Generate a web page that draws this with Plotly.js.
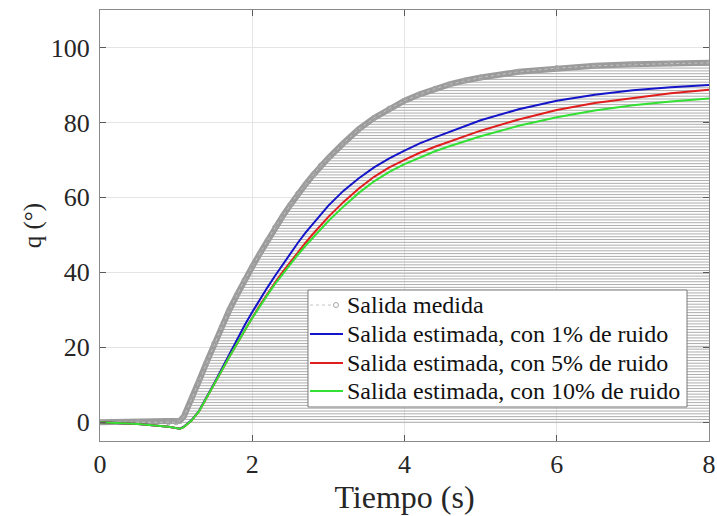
<!DOCTYPE html>
<html>
<head>
<meta charset="utf-8">
<script src="https://cdn.plot.ly/plotly-3.0.1.min.js"></script>
<style>html,body{margin:0;padding:0;background:#fff;}#chart{width:717px;height:516px;}</style>
</head>
<body>
<div id="chart"></div>
<script>
// Time (s)
const tiempo = [0,0.5,0.9,1.0,1.05,1.1,1.2,1.3,1.4,1.5,1.6,1.7,1.8,1.9,2.0,2.1,2.2,2.3,2.4,2.5,2.6,2.7,2.8,2.9,3.0,3.2,3.4,3.6,3.8,4.0,4.2,4.4,4.6,4.8,5.0,5.5,6.0,6.5,7.0,7.5,8.0];
// Measured output q (deg)
const salidaMedida = [0,0,0,0,0.4,1.5,6,11,16,21,25.5,30,34,38,41.5,45,48.5,52,55,58,61,63.5,66,68.5,70.5,74.5,78.2,81.2,83.7,85.8,87.5,89.0,90.2,91.2,92.0,93.5,94.5,95.1,95.5,95.7,95.9];
// Estimated output, 1% noise
const estimada1 = [0,-0.45,-1.2,-1.6,-1.7,-1.2,0.5,3.0,6.6,10.4,14.3,18.3,22.2,25.9,29.4,32.8,36.0,39.1,42.1,45.1,47.9,50.6,53.1,55.5,57.8,61.8,65.1,68.0,70.4,72.5,74.4,76.0,77.6,79.2,80.6,83.5,85.8,87.4,88.6,89.4,90.0];
// Estimated output, 5% noise
const estimada5 = [0,-0.45,-1.2,-1.6,-1.75,-1.3,0.4,2.9,6.4,10.1,13.8,17.5,21.1,24.5,27.9,31.2,34.3,37.3,40.1,42.8,45.4,47.9,50.3,52.6,54.8,58.8,62.4,65.5,68.0,70.0,71.9,73.5,75.0,76.4,77.8,80.8,83.3,85.2,86.6,87.8,88.7];
// Estimated output, 10% noise
const estimada10 = [0,-0.45,-1.2,-1.6,-1.75,-1.3,0.4,2.9,6.4,10.1,13.8,17.5,21.1,24.5,27.8,31.0,34.0,36.9,39.6,42.2,44.7,47.1,49.4,51.6,53.7,57.6,61.2,64.3,66.8,68.9,70.7,72.3,73.7,75.1,76.3,79.1,81.4,83.2,84.6,85.6,86.4];

const nombres = ["Salida medida","Salida estimada, con 1% de ruido","Salida estimada, con 5% de ruido","Salida estimada, con 10% de ruido"];
const colores = ["#a6a6a6","#1414c8","#e01e1e","#33e033"];
const xTicks = [0,2,4,6,8];
const yTicks = [0,20,40,60,80,100];

// Hatch lines from the measured curve to the right edge (decorative, derived from measured data)
const hx = [], hy = [];
const tEnd = tiempo[tiempo.length-1];
const qMax = Math.max(...salidaMedida);
for (let L = 0; L <= qMax; L += 0.75) {
  let xs = tiempo[0];
  for (let i = 1; i < tiempo.length; i++) {
    if (salidaMedida[i] >= L && salidaMedida[i-1] <= L) {
      const d = salidaMedida[i] - salidaMedida[i-1];
      xs = d === 0 ? tiempo[i-1] : tiempo[i-1] + (L - salidaMedida[i-1]) / d * (tiempo[i] - tiempo[i-1]);
      if (L === 0) xs = tiempo[0];
      break;
    }
  }
  hx.push(xs, tEnd, null); hy.push(L, L, null);
}

const font = "Liberation Serif, Times New Roman, serif";
const txt = "#262626";

const data = [
  {x: hx, y: hy, mode: "lines", line: {color: "#adadad", width: 1}, showlegend: false, hoverinfo: "skip"},
  {x: tiempo, y: salidaMedida, mode: "lines", line: {color: "#9b9b9b", width: 6}, showlegend: false, hoverinfo: "skip"},
  {x: tiempo, y: salidaMedida, name: nombres[0], mode: "lines+markers", showlegend: false,
   line: {color: "#c4c4c4", width: 1, dash: "dot"},
   marker: {symbol: "circle-open", size: 5, color: colores[0], line: {width: 1}}},
  {x: tiempo, y: estimada1, name: nombres[1], mode: "lines", showlegend: false, line: {color: colores[1], width: 2}},
  {x: tiempo, y: estimada5, name: nombres[2], mode: "lines", showlegend: false, line: {color: colores[2], width: 2}},
  {x: tiempo, y: estimada10, name: nombres[3], mode: "lines", showlegend: false, line: {color: colores[3], width: 2}}
];

// Legend box (paper coordinates of the plot area)
const legBox = {x0: 0.3415, x1: 0.9639, y0: 0.0789, y1: 0.3503};
const legRows = [0.3155, 0.2483, 0.1810, 0.1160];
const symX0 = 0.3448, symX1 = 0.3990, textX = 0.4023;

const shapes = [{type: "rect", xref: "paper", yref: "paper", x0: legBox.x0, x1: legBox.x1, y0: legBox.y0, y1: legBox.y1,
  fillcolor: "#ffffff", line: {color: "#7a7a7a", width: 1}, layer: "above"}];
const annotations = [];
nombres.forEach((n, i) => {
  if (i === 0) {
    shapes.push({type: "line", xref: "paper", yref: "paper", x0: symX0, x1: 0.3826, y0: legRows[i], y1: legRows[i],
      line: {color: "#c4c4c4", width: 1, dash: "dot"}, layer: "above"});
    shapes.push({type: "circle", xref: "paper", yref: "paper", x0: 0.3834, x1: 0.3916, y0: legRows[i] - 0.0058, y1: legRows[i] + 0.0058,
      line: {color: colores[0], width: 1}, fillcolor: "rgba(0,0,0,0)", layer: "above"});
  } else {
    shapes.push({type: "line", xref: "paper", yref: "paper", x0: symX0, x1: symX1, y0: legRows[i], y1: legRows[i],
      line: {color: colores[i], width: 2}, layer: "above"});
  }
  annotations.push({xref: "paper", yref: "paper", x: textX, y: legRows[i], xanchor: "left", yanchor: "middle",
    text: n, showarrow: false, font: {family: font, size: 24, color: "#111"}});
});

const axisCommon = {
  showline: true, mirror: "ticks", linecolor: "#8a8a8a", linewidth: 1,
  ticks: "inside", ticklen: 6, tickcolor: "#5a5a5a", tickwidth: 1,
  showgrid: true, gridcolor: "#e4e4e4", gridwidth: 1, zeroline: false,
  tickfont: {family: font, size: 26, color: txt}
};

const layout = {
  width: 717, height: 516,
  margin: {l: 100, r: 8, t: 10, b: 75},
  paper_bgcolor: "#ffffff", plot_bgcolor: "#ffffff",
  font: {family: font, color: txt},
  xaxis: Object.assign({}, axisCommon, {
    range: [0, 8], tickvals: xTicks, ticktext: xTicks.map(String),
    title: {text: "Tiempo (s)", font: {family: font, size: 32, color: txt}, standoff: 0}
  }),
  yaxis: Object.assign({}, axisCommon, {
    range: [-5, 110], tickvals: yTicks, ticktext: yTicks.map(String),
    ticklabelstandoff: 4,
    title: {text: "q (°)", font: {family: font, size: 25, color: txt}, standoff: 2}
  }),
  shapes: shapes,
  annotations: annotations,
  showlegend: false
};

Plotly.newPlot("chart", data, layout, {staticPlot: true, displayModeBar: false});
</script>
</body>
</html>
